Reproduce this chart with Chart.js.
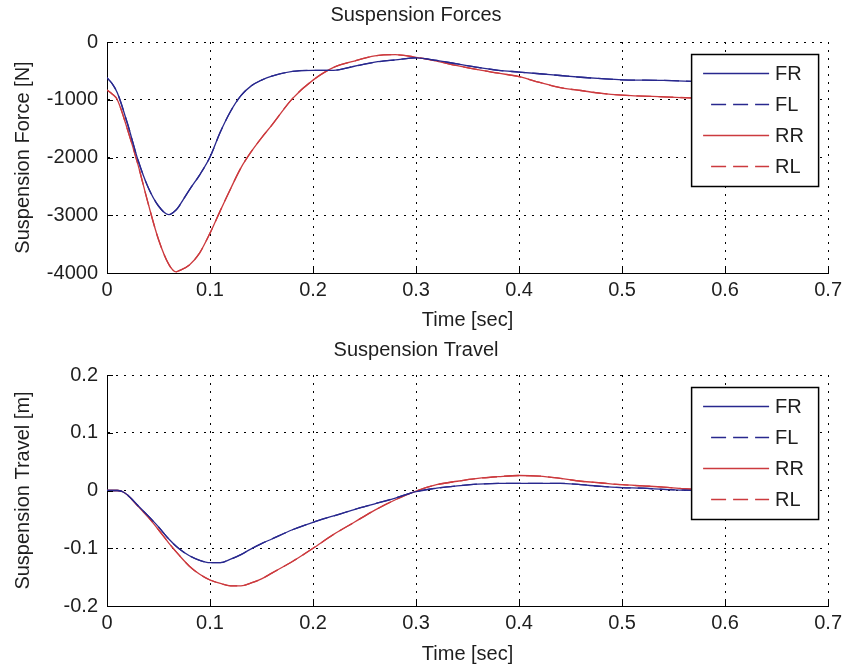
<!DOCTYPE html>
<html><head><meta charset="utf-8">
<script src="https://cdn.jsdelivr.net/npm/chart.js@4"></script>
<style>
html,body{margin:0;padding:0;background:#fff;}
#wrap{position:relative;width:847px;height:666px;background:#fff;}
canvas{position:absolute;left:0;}
</style>
</head><body>
<div id="wrap">
<canvas id="c1" width="847" height="333" style="top:0px"></canvas>
<canvas id="c2" width="847" height="333" style="top:333px"></canvas>
</div>
<script>
// ---------- data ----------
const seriesNames = ['FR', 'FL', 'RR', 'RL'];
const timeTicks = [0, 0.1, 0.2, 0.3, 0.4, 0.5, 0.6, 0.7];
const forceTicks = [-4000, -3000, -2000, -1000, 0];
const travelTicks = [-0.2, -0.1, 0, 0.1, 0.2];

const forceTime = [0, 0.005, 0.01, 0.02, 0.03, 0.04, 0.05, 0.06, 0.067, 0.07, 0.08, 0.09, 0.1, 0.11, 0.12, 0.13, 0.14, 0.15, 0.16, 0.18, 0.2, 0.22, 0.24, 0.26, 0.28, 0.3, 0.32, 0.34, 0.36, 0.38, 0.4, 0.42, 0.44, 0.46, 0.48, 0.5, 0.54, 0.58, 0.6];
const forceFR = [-620, -720, -880, -1420, -2040, -2520, -2840, -2990, -2910, -2840, -2560, -2300, -1990, -1560, -1200, -930, -760, -660, -590, -510, -490, -490, -420, -350, -310, -275, -320, -380, -440, -490, -520, -550, -580, -610, -635, -655, -665, -690, -695];
const forceFL = [-620, -720, -880, -1420, -2040, -2520, -2840, -2990, -2910, -2840, -2560, -2300, -1990, -1560, -1200, -930, -760, -660, -590, -510, -490, -490, -420, -350, -310, -275, -320, -380, -440, -490, -520, -550, -580, -610, -635, -655, -665, -690, -695];
const forceRR = [-830, -900, -1000, -1520, -2120, -2800, -3420, -3850, -3980, -3960, -3860, -3650, -3310, -2920, -2540, -2180, -1900, -1660, -1440, -980, -660, -440, -330, -240, -220, -265, -330, -410, -480, -540, -600, -700, -790, -840, -890, -920, -950, -975, -980];
const forceRL = [-830, -900, -1000, -1520, -2120, -2800, -3420, -3850, -3980, -3960, -3860, -3650, -3310, -2920, -2540, -2180, -1900, -1660, -1440, -980, -660, -440, -330, -240, -220, -265, -330, -410, -480, -540, -600, -700, -790, -840, -890, -920, -950, -975, -980];

const travelTime = [0, 0.01, 0.015, 0.02, 0.03, 0.04, 0.05, 0.06, 0.07, 0.08, 0.09, 0.1, 0.11, 0.12, 0.13, 0.14, 0.15, 0.16, 0.18, 0.2, 0.22, 0.24, 0.26, 0.28, 0.3, 0.32, 0.34, 0.36, 0.38, 0.4, 0.42, 0.44, 0.46, 0.48, 0.5, 0.52, 0.54, 0.56, 0.6];
const travelFR = [0, 0, -0.002, -0.008, -0.026, -0.044, -0.063, -0.084, -0.101, -0.113, -0.121, -0.125, -0.125, -0.119, -0.111, -0.101, -0.092, -0.084, -0.068, -0.055, -0.044, -0.033, -0.023, -0.013, -0.002, 0.004, 0.008, 0.011, 0.0125, 0.0125, 0.0125, 0.0125, 0.010, 0.007, 0.005, 0.004, 0.002, 0.0005, -0.001];
const travelFL = [0, 0, -0.002, -0.008, -0.026, -0.044, -0.063, -0.084, -0.101, -0.113, -0.121, -0.125, -0.125, -0.119, -0.111, -0.101, -0.092, -0.084, -0.068, -0.055, -0.044, -0.033, -0.023, -0.013, -0.002, 0.004, 0.008, 0.011, 0.0125, 0.0125, 0.0125, 0.0125, 0.010, 0.007, 0.005, 0.004, 0.002, 0.0005, -0.001];
const travelRR = [0, 0, -0.002, -0.008, -0.027, -0.046, -0.068, -0.091, -0.112, -0.131, -0.145, -0.155, -0.161, -0.165, -0.165, -0.160, -0.153, -0.143, -0.123, -0.100, -0.076, -0.055, -0.034, -0.016, -0.001, 0.010, 0.016, 0.021, 0.024, 0.026, 0.025, 0.021, 0.016, 0.013, 0.010, 0.008, 0.006, 0.003, 0];
const travelRL = [0, 0, -0.002, -0.008, -0.027, -0.046, -0.068, -0.091, -0.112, -0.131, -0.145, -0.155, -0.161, -0.165, -0.165, -0.160, -0.153, -0.143, -0.123, -0.100, -0.076, -0.055, -0.034, -0.016, -0.001, 0.010, 0.016, 0.021, 0.024, 0.026, 0.025, 0.021, 0.016, 0.013, 0.010, 0.008, 0.006, 0.003, 0];

// ---------- styles ----------
const BLUE = '#28288e';
const RED = '#cc3a3e';
const TEXT = '#1e1e1e';
const FONT = '"Liberation Sans", Arial, sans-serif';
const DASH = [15, 7];

Chart.defaults.font.family = FONT;
Chart.defaults.font.size = 20;
Chart.defaults.color = TEXT;

function pts(t, v) { return t.map((x, i) => ({x: x, y: v[i]})); }

function makeDatasets(t, fr, fl, rr, rl) {
  const vals = [fr, fl, rr, rl];
  const cols = [BLUE, BLUE, RED, RED];
  const dashes = [[], DASH, [], DASH];
  return seriesNames.map((n, i) => ({
    label: n,
    data: pts(t, vals[i]),
    borderColor: cols[i],
    borderWidth: 1.3,
    borderDash: dashes[i],
    pointRadius: 0,
    cubicInterpolationMode: 'monotone',
    fill: false
  }));
}

const innerTicks = {
  id: 'innerTicks',
  afterDraw(chart) {
    const ctx = chart.ctx, a = chart.chartArea;
    const xs = chart.scales.x, ys = chart.scales.y;
    ctx.save();
    ctx.strokeStyle = '#000';
    ctx.lineWidth = 1;
    ctx.beginPath();
    xs.ticks.forEach(tk => {
      const px = Math.round(xs.getPixelForValue(tk.value)) + 0.5;
      ctx.moveTo(px, a.bottom); ctx.lineTo(px, a.bottom - 6);
    });
    ys.ticks.forEach(tk => {
      const py = Math.round(ys.getPixelForValue(tk.value)) + 0.5;
      ctx.moveTo(a.left, py); ctx.lineTo(a.left + 6, py);
    });
    ctx.stroke();
    ctx.restore();
  }
};

const boxLegend = {
  id: 'boxLegend',
  afterDraw(chart) {
    const ctx = chart.ctx, a = chart.chartArea;
    const w = 127, h = 132;
    const left = a.right - 10 - w, top = a.top + 12;
    ctx.save();
    ctx.fillStyle = '#fff';
    ctx.fillRect(left, top, w, h);
    ctx.strokeStyle = '#000';
    ctx.lineWidth = 1.5;
    ctx.strokeRect(left + 0.5, top + 0.5, w, h);
    chart.data.datasets.forEach((ds, i) => {
      const y = Math.round(top + 19 + i * 31) + 0.5;
      const dashed = ds.borderDash && ds.borderDash.length;
      ctx.beginPath();
      ctx.setLineDash(dashed ? DASH : []);
      ctx.strokeStyle = ds.borderColor;
      ctx.lineWidth = 1.5;
      ctx.moveTo(left + (dashed ? 20 : 12), y);
      ctx.lineTo(left + 78, y);
      ctx.stroke();
      ctx.setLineDash([]);
      ctx.fillStyle = TEXT;
      ctx.font = '20px ' + FONT;
      ctx.textAlign = 'left';
      ctx.textBaseline = 'middle';
      ctx.fillText(ds.label, left + 84, y + 1);
    });
    ctx.restore();
  }
};

function fmt(v) { return String(Math.round(v * 1000) / 1000); }

function makeChart(id, title, titlePad, ylabel, yTicks, t, fr, fl, rr, rl, xTitlePad) {
  return new Chart(document.getElementById(id), {
    type: 'line',
    data: { datasets: makeDatasets(t, fr, fl, rr, rl) },
    plugins: [innerTicks, boxLegend],
    options: {
      responsive: false,
      animation: false,
      devicePixelRatio: 1,
      layout: { padding: { left: 0, right: 15, top: 0, bottom: 0 } },
      plugins: {
        legend: { display: false },
        tooltip: { enabled: false },
        title: {
          display: true, text: title, color: TEXT,
          font: { size: 20, weight: 'normal', lineHeight: 1.2 },
          padding: titlePad
        }
      },
      scales: {
        x: {
          type: 'linear',
          min: timeTicks[0], max: timeTicks[timeTicks.length - 1],
          afterBuildTicks: s => { s.ticks = timeTicks.map(v => ({value: v})); },
          afterFit: s => { s.height = 60; },
          ticks: { padding: 5, maxRotation: 0, autoSkip: false, callback: v => fmt(v), color: TEXT },
          grid: { color: '#000', lineWidth: 1, drawTicks: false },
          border: { display: true, color: '#000', width: 1, dash: [2, 6] },
          title: { display: true, text: 'Time [sec]', color: TEXT, font: { size: 20, lineHeight: 1.2 }, padding: { top: 0, bottom: xTitlePad } }
        },
        y: {
          type: 'linear',
          min: yTicks[0], max: yTicks[yTicks.length - 1],
          afterBuildTicks: s => { s.ticks = yTicks.map(v => ({value: v})); },
          afterFit: s => { s.width = 107; },
          ticks: { padding: 9, autoSkip: false, callback: v => fmt(v), color: TEXT },
          grid: { color: '#000', lineWidth: 1, drawTicks: false },
          border: { display: true, color: '#000', width: 1, dash: [2, 6] },
          title: { display: true, text: ylabel, color: TEXT, font: { size: 20, lineHeight: 1.2 }, padding: { top: 11, bottom: 0 } }
        }
      }
    }
  });
}

makeChart('c1', 'Suspension Forces', { top: 3, bottom: 15 }, 'Suspension Force [N]', forceTicks,
  forceTime, forceFR, forceFL, forceRR, forceRL, 1);
makeChart('c2', 'Suspension Travel', { top: 5, bottom: 13 }, 'Suspension Travel [m]', travelTicks,
  travelTime, travelFR, travelFL, travelRR, travelRL, 0);
</script>
</body></html>
